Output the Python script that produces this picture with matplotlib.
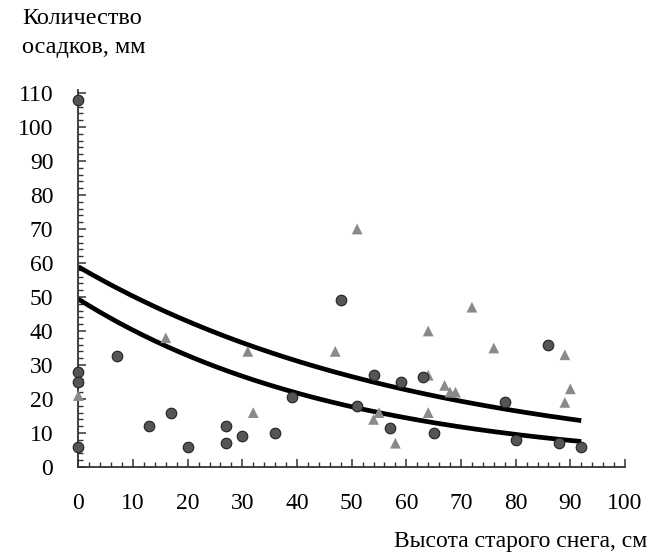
import numpy as np
import matplotlib
matplotlib.use("Agg")
import matplotlib.pyplot as plt
from matplotlib.ticker import MultipleLocator

# circles (series 1)
circ_x = [0, 7, 0, 0, 17, 13, 0, 20, 27, 27, 30, 48, 54, 59, 63, 39, 51, 57, 36, 65, 86, 78, 80, 88, 92]
circ_y = [108, 32.5, 28, 25, 16, 12, 6, 6, 12, 7, 9, 49, 27, 25, 26.5, 20.5, 18, 11.5, 10, 10, 36, 19, 8, 7, 6]

# triangles (series 2)
tri_x = [0, 16, 31, 32, 51, 64, 47, 64, 67, 54, 55, 64, 58, 72, 76, 89, 68, 69, 90, 89]
tri_y = [21, 38, 34, 16, 70, 40, 34, 27, 24, 14, 16, 16, 7, 47, 35, 33, 22, 22, 23, 19]

# exponential trend lines y = a * exp(b * x)
trend_a = [58.9, 49.4]
trend_b = [-0.0159, -0.0205]
trend_xmax = 92

x_ticks = [0, 10, 20, 30, 40, 50, 60, 70, 80, 90, 100]
y_ticks = [0, 10, 20, 30, 40, 50, 60, 70, 80, 90, 100, 110]

plt.rcParams['font.family'] = ['Liberation Serif', 'DejaVu Serif']

fig = plt.figure(figsize=(6.57, 5.58), dpi=100)
ax = fig.add_axes([0.1192, 0.1631, 0.8321, 0.6763])

xs = np.linspace(0, trend_xmax, 200)
for a, b in zip(trend_a, trend_b):
    ax.plot(xs, a * np.exp(b * xs), color='black', lw=3.4, zorder=2, solid_capstyle='butt')

ax.scatter(tri_x, tri_y, marker='^', s=60, color='#8a8a8a', edgecolors='none', zorder=3, clip_on=False)
ax.scatter(circ_x, circ_y, marker='o', s=58, color='#555555', edgecolors='#222222', linewidths=0.8, zorder=4, clip_on=False)

ax.set_xlim(0, 100)
ax.set_ylim(0, 111)
ax.spines['top'].set_visible(False)
ax.spines['right'].set_visible(False)
for s in ['left', 'bottom']:
    ax.spines[s].set_linewidth(1.3)
    ax.spines[s].set_color('#333333')

ax.set_xticks(x_ticks)
ax.set_yticks(y_ticks)
ax.set_xticklabels([str(v) for v in x_ticks])
ax.set_yticklabels([str(v) for v in y_ticks])
ax.xaxis.set_minor_locator(MultipleLocator(2))
ax.yaxis.set_minor_locator(MultipleLocator(2))
ax.tick_params(axis='both', which='major', direction='in', length=6, width=1.1, color='#333333', labelsize=17)
ax.tick_params(axis='both', which='minor', direction='in', length=3.5, width=1.0, color='#333333')
ax.tick_params(axis='x', which='major', pad=19)
ax.tick_params(axis='y', which='major', pad=18)

fig.text(22 / 657, 1 - 19 / 558, 'Количество', fontsize=17.5, ha='left', va='center')
fig.text(22 / 657, 1 - 48 / 558, 'осадков, мм', fontsize=17.5, ha='left', va='center')
fig.text(647 / 657, 1 - 541 / 558, 'Высота старого снега, см', fontsize=17, ha='right', va='center')

fig.savefig('out.png', dpi=100, facecolor='white')
